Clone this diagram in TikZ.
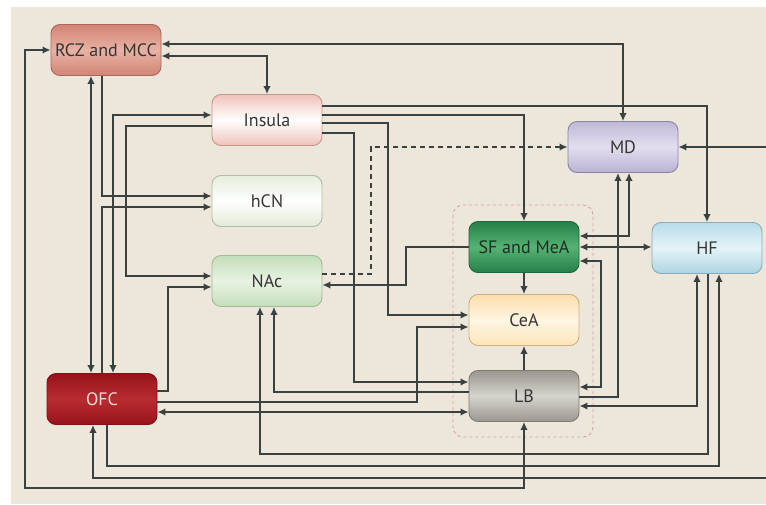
\documentclass[tikz,border=0pt]{standalone}
\usepackage{fontspec}
\setmainfont{PT Sans}
\usetikzlibrary{arrows.meta, calc}

\definecolor{bgc}{HTML}{ECE6DB}
\definecolor{linec}{HTML}{3A413F}
\definecolor{txtc}{HTML}{353535}
\definecolor{amyc}{HTML}{D6A397}

\tikzset{
  >={Latex[length=8pt,width=7.5pt]},
  box/.style={rounded corners=9pt, minimum width=110pt, minimum height=51pt, line width=0.9pt,
    font=\fontsize{18}{21}\selectfont, text=txtc},
  wire/.style={draw=linec, line width=2.6pt},
  c-rcz/.style={top color={rgb,255:red,210;green,132;blue,116}, bottom color={rgb,255:red,210;green,132;blue,116},
    middle color={rgb,255:red,232;green,178;blue,164}, draw={rgb,255:red,168;green,104;blue,92}},
  c-insula/.style={top color={rgb,255:red,238;green,194;blue,186}, bottom color={rgb,255:red,238;green,194;blue,186},
    middle color=white, draw={rgb,255:red,196;green,150;blue,140}},
  c-hcn/.style={top color={rgb,255:red,230;green,238;blue,220}, bottom color={rgb,255:red,226;green,234;blue,214},
    middle color=white, draw={rgb,255:red,176;green,188;blue,164}},
  c-nac/.style={top color={rgb,255:red,196;green,222;blue,186}, bottom color={rgb,255:red,196;green,222;blue,186},
    middle color={rgb,255:red,232;green,242;blue,226}, draw={rgb,255:red,164;green,186;blue,154}},
  c-ofc/.style={top color={rgb,255:red,150;green,18;blue,26}, bottom color={rgb,255:red,150;green,18;blue,26},
    middle color={rgb,255:red,184;green,44;blue,48}, draw={rgb,255:red,126;green,18;blue,22}, text={rgb,255:red,246;green,214;blue,212}},
  c-md/.style={top color={rgb,255:red,192;green,184;blue,214}, bottom color={rgb,255:red,186;green,178;blue,210},
    middle color={rgb,255:red,226;green,222;blue,238}, draw={rgb,255:red,140;green,132;blue,164}},
  c-sf/.style={top color={rgb,255:red,36;green,128;blue,72}, bottom color={rgb,255:red,36;green,128;blue,72},
    middle color={rgb,255:red,86;green,178;blue,116}, draw={rgb,255:red,30;green,104;blue,60}, text={rgb,255:red,26;green,48;blue,34}},
  c-hf/.style={top color={rgb,255:red,184;green,220;blue,232}, bottom color={rgb,255:red,174;green,212;blue,226},
    middle color={rgb,255:red,228;green,243;blue,248}, draw={rgb,255:red,136;green,172;blue,188}},
  c-cea/.style={top color={rgb,255:red,252;green,222;blue,172}, bottom color={rgb,255:red,252;green,228;blue,186},
    middle color={rgb,255:red,254;green,245;blue,226}, draw={rgb,255:red,206;green,178;blue,130}},
  c-lb/.style={top color={rgb,255:red,154;green,150;blue,144}, bottom color={rgb,255:red,154;green,150;blue,144},
    middle color={rgb,255:red,214;green,212;blue,206}, draw={rgb,255:red,126;green,122;blue,116}},
}

\begin{document}
\begin{tikzpicture}[x=1pt,y=-1pt]
\useasboundingbox (0,0) rectangle (766,504);
\fill[white] (0,0) rectangle (766,504);
\fill[bgc] (11,7) rectangle (766,504);
\draw[amyc, dashed, line width=0.9pt, rounded corners=10pt] (453,205) rectangle (593,437);

\foreach \N/\X/\Y/\T in {rcz/106/50/RCZ and MCC, insula/267/120/Insula, hcn/267/201/hCN, nac/267/281/NAc,
  ofc/102/399/OFC, md/623/147/MD, sf/524/247/SF and MeA, hf/707/248/HF, cea/524/320/CeA, lb/524/396/LB}
  {\node[box, c-\N] (\N) at (\X,\Y) {\T};}

\coordinate (ext-md) at (766,147);
\coordinate (ext-ofc) at (766,478);

\draw[wire, <->] (rcz.east |- 0,44) -| (md.north);
\draw[wire, <->] (rcz.east |- 0,56) -| (insula.north);
\draw[wire, <->] (lb.south) |- (25,488) |- (rcz.west);
\draw[wire, <->] (ofc.north -| 91,0) -- (rcz.south -| 91,0);
\draw[wire, ->] (rcz.south -| 102,0) |- (hcn.west |- 0,196);
\draw[wire, ->] (ofc.north -| 102,0) |- (hcn.west |- 0,207);
\draw[wire, <->] (insula.west |- 0,115) -| (ofc.north -| 113,0);
\draw[wire, ->] (insula.west |- 0,126) -| (126,276) -- (nac.west |- 0,276);
\draw[wire, ->] (ofc.east |- 0,391) -| (168,287) -- (nac.west |- 0,287);
\draw[wire, ->] (ofc.east |- 0,402) -| (417,327) -- (cea.west |- 0,327);
\draw[wire, <->] (ofc.east |- 0,412) -- (lb.west |- 0,412);
\draw[wire, ->] (lb.west |- 0,392) -| (nac.south -| 274,0);
\draw[wire, ->] (hf.south -| 708,0) |- (260,454) -- (nac.south -| 260,0);
\draw[wire, ->] (ofc.south -| 107,0) |- (719,466) -- (hf.south -| 719,0);
\draw[wire, ->] (ext-ofc) -| (ofc.south -| 93,0);
\draw[wire, ->] (ext-md) -- (md.east);
\draw[wire, ->] (insula.east |- 0,106) -| (hf.north);
\draw[wire, ->] (insula.east |- 0,115) -| (sf.north);
\draw[wire, ->] (insula.east |- 0,123) -| (388,315) -- (cea.west |- 0,315);
\draw[wire, ->] (insula.east |- 0,133) -| (354,382) -- (lb.west |- 0,382);
\draw[wire, ->, dashed, dash pattern=on 5pt off 4pt] (nac.east |- 0,274) -| (371,147) -- (md.west);
\draw[wire, ->] (sf.west) -| (406,285) -- (nac.east |- 0,285);
\draw[wire, ->] (sf.south) -- (cea.north);
\draw[wire, ->] (lb.north) -- (cea.south);
\draw[wire, <->] (sf.east |- 0,236) -| (md.south -| 629,0);
\draw[wire, ->] (lb.east |- 0,397) -| (md.south -| 618,0);
\draw[wire, <->] (sf.east) -- (hf.west |- sf.east);
\draw[wire, <->] (sf.east |- 0,261) -| (601,387) -- (lb.east |- 0,387);
\draw[wire, <->] (lb.east |- 0,406) -| (hf.south -| 697,0);
\end{tikzpicture}
\end{document}
